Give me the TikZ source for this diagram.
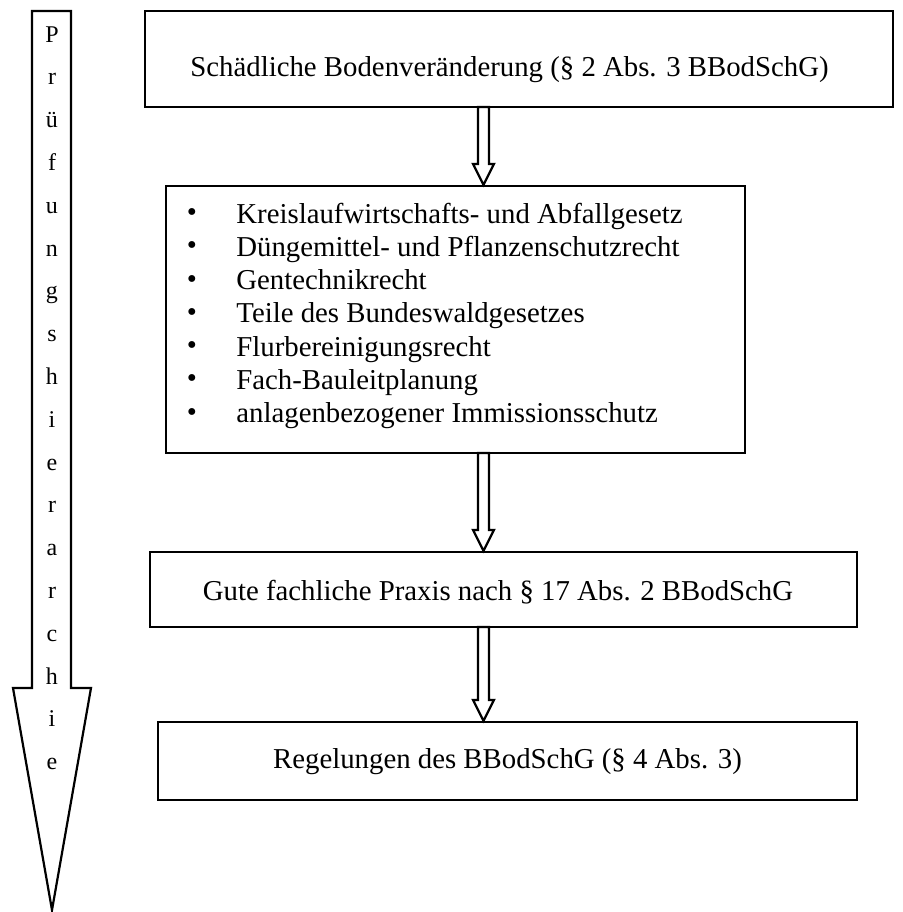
\documentclass[tikz,border=0pt]{standalone}
\usepackage{fontspec}
\setmainfont{Liberation Serif}
\usetikzlibrary{calc}
\tikzset{
  outline/.style={draw=black, line width=1.1pt, line join=miter},
  box/.style={outline, fill=white, inner sep=0pt},
  label/.style={font=\fontsize{14.4}{17}\selectfont, inner sep=0pt},
  letter/.style={font=\fontsize{12}{14}\selectfont, inner sep=0pt, anchor=base},
}
% hollow block arrow pointing down from #1 to #2
\newcommand{\hollowdown}[2]{%
  \draw[outline] let \p1=(#1), \p2=(#2) in
    (\x1-2.75pt,\y1) -- (\x1-2.75pt,\y2+10.5pt) -- (\x1-5.25pt,\y2+10.5pt)
    -- (\x1,\y2) -- (\x1+5.25pt,\y2+10.5pt) -- (\x1+2.75pt,\y2+10.5pt)
    -- (\x1+2.75pt,\y1) -- cycle;}
\begin{document}
\begin{tikzpicture}[x=0.5pt,y=-0.5pt]
\useasboundingbox (0,0) rectangle (902,912);

% vertical arrow on the left
\draw[outline] (32,11) -- (71,11) -- (71,688) -- (91,688) -- (52,910)
  -- (13,688) -- (32,688) -- cycle;
\foreach \ch [count=\i] in {P,r,ü,f,u,n,g,s,h,i,e,r,a,r,c,h,i,e}
  \node[letter] (l\i) at (52,{42+42.8*(\i-1)}) {\ch};

% boxes
\node[box, minimum width=374pt, minimum height=48pt] (top) at (519,59) {};
\node[label, anchor=base west] (toptext) at (190,76)
  {Schädliche Bodenveränderung (§ 2 Abs. 3 BBodSchG)};

\node[box, minimum width=289.5pt, minimum height=133.5pt] (laws) at (455.5,319.5) {};
\foreach \t [count=\i] in {Kreislaufwirtschafts- und Abfallgesetz,
    Düngemittel- und Pflanzenschutzrecht, Gentechnikrecht,
    Teile des Bundeswaldgesetzes, Flurbereinigungsrecht,
    Fach-Bauleitplanung, anlagenbezogener Immissionsschutz} {
  \node[label] (b\i) at (192,{215+33.3*(\i-1)}) {•};
  \node[label, anchor=base west] (t\i) at (236,{223+33.3*(\i-1)}) {\t};
}

\node[box, minimum width=353.5pt, minimum height=37.5pt] (praxis) at (503.5,589.5) {};
\node[label, anchor=base] (praxistext) at (498,600)
  {Gute fachliche Praxis nach § 17 Abs. 2 BBodSchG};

\node[box, minimum width=349.5pt, minimum height=39pt] (rules) at (507.5,761) {};
\node[label, anchor=base] (rulestext) at (507.5,768)
  {Regelungen des BBodSchG (§ 4 Abs. 3)};

% hollow arrows between the boxes
\coordinate (a1) at (483.5,107);
\coordinate (a2) at (483.5,453);
\coordinate (a3) at (483.5,627);
\hollowdown{a1}{a1 |- laws.north}
\hollowdown{a2}{a2 |- praxis.north}
\hollowdown{a3}{a3 |- rules.north}
\end{tikzpicture}
\end{document}
